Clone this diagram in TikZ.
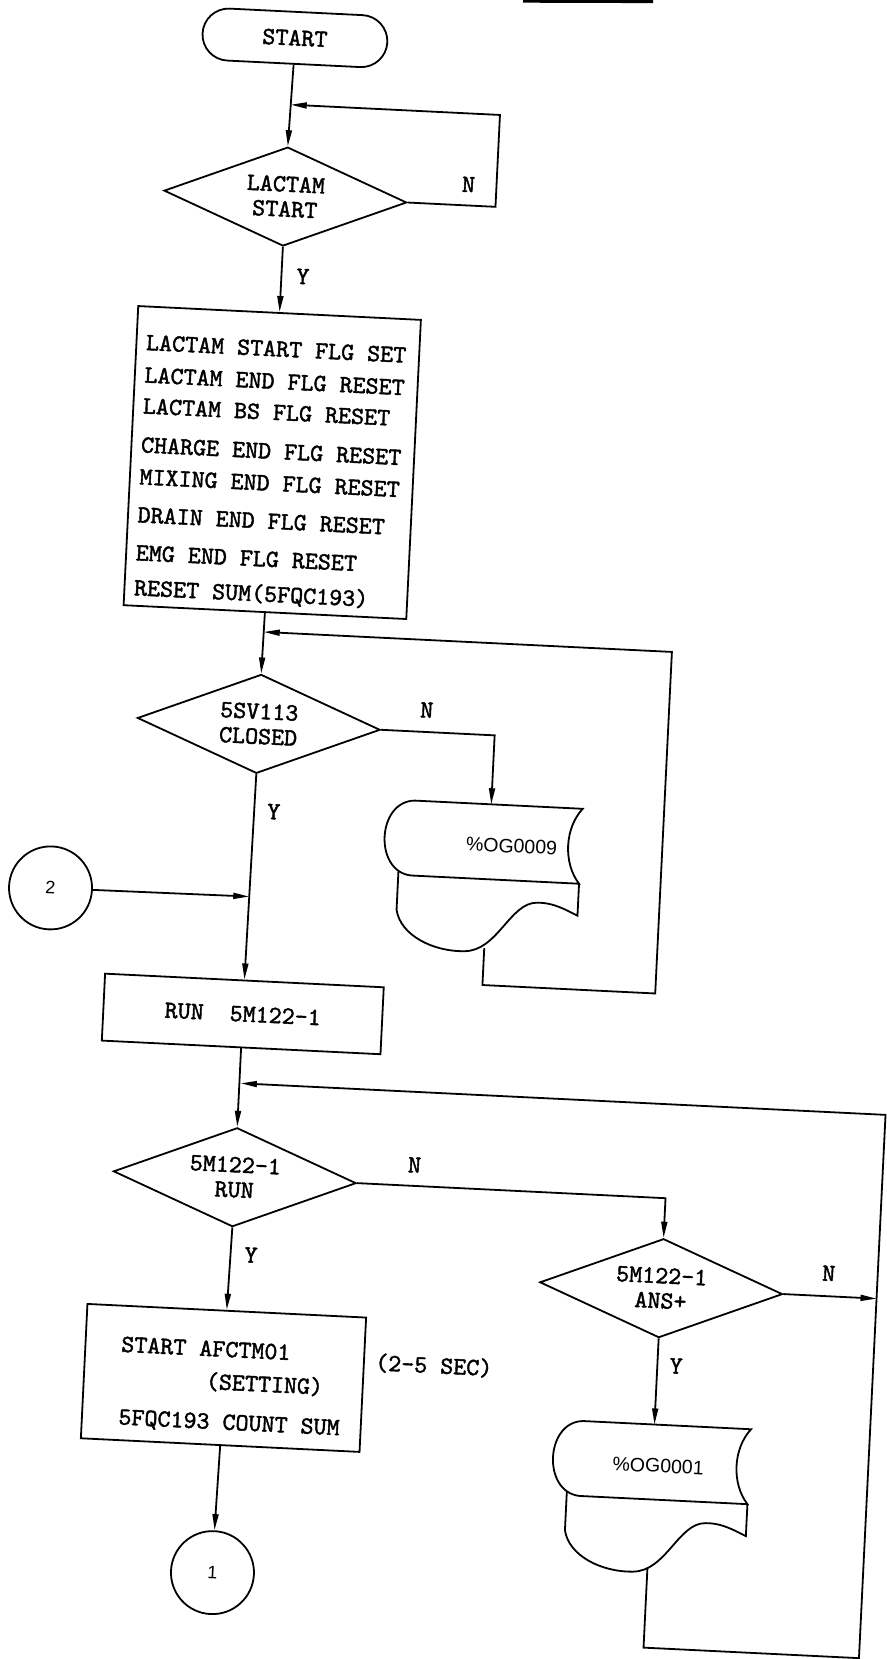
\documentclass[tikz,border=0pt]{standalone}
\usepackage{fontspec}
\newfontfamily\docfont{Liberation Sans}
\newfontfamily\chartmono{lmmono10-regular.otf}[FakeBold=1.6]
\usetikzlibrary{shapes.geometric,arrows.meta}
\newcommand\chartfont{\chartmono\fontsize{24.8}{25}\selectfont}
\newcommand\docfontsz{\docfont\fontsize{19.5}{22}\selectfont}
\newcommand\circfont{\docfont\fontsize{18}{20}\selectfont}
\tikzset{
  arr/.style={line width=1.8pt,-{Triangle[length=16pt,width=6pt]}},
  term/.style={draw,line width=1.8pt,rectangle,rounded corners=26pt,minimum width=185pt,minimum height=52pt,inner sep=0pt,font=\chartfont},
  dec/.style={draw,line width=1.8pt,diamond,aspect=2.5,inner sep=0pt,minimum width=243pt,minimum height=99pt,align=center,font=\chartfont},
  proc/.style={draw,line width=1.8pt,rectangle,inner sep=0pt,font=\chartfont},
  conn/.style={draw,line width=1.8pt,circle,minimum size=83pt,inner sep=0pt,font=\circfont},
  txt/.style={font=\chartfont,inner sep=0pt,anchor=base west},
  lbl/.style={font=\chartfont,inner sep=0pt},
  doctxt/.style={font=\docfontsz,inner sep=0pt},
  docsym/.pic={
    \draw[line width=1.8pt] (0,0) -- (168,0) .. controls (151,20) and (151,55) .. (168,75) -- (0,75) .. controls (-38,73) and (-38,2) .. (0,0) -- cycle;
    \draw[line width=1.8pt] (-13,71) -- (-13,110) .. controls (-8,135) and (25,150) .. (57,148) .. controls (90,146) and (100,97) .. (127,96) .. controls (145,95) and (158,103) .. (168,107) -- (168,75);
  }
}
\begin{document}
\begin{tikzpicture}[x=1pt,y=-1pt]
\path[fill=white,use as bounding box] (0,0) rectangle (886,1659);
\draw[line width=3pt] (523,1.2) -- (653,1.6);
\begin{scope}[rotate around={-2.8:(443,830)},transform shape]
% main column
\node[term] (start) at (256.4,46) {START};
\node[dec] (d1) at (254.6,205) {LACTAM\\START};
\node[proc,minimum width=283pt,minimum height=299.5pt] (b1) at (254.5,471.3) {};
\node[txt] (t1) at (122.5,365.1) {LACTAM START FLG SET};
\node[txt] (t2) at (122.5,397.6) {LACTAM END FLG RESET};
\node[txt] (t3) at (122.5,428.6) {LACTAM BS FLG RESET};
\node[txt] (t4) at (122.5,467.6) {CHARGE END FLG RESET};
\node[txt] (t5) at (122.5,499.6) {MIXING END FLG RESET};
\node[txt] (t6) at (122.5,537.6) {DRAIN END FLG RESET};
\node[txt] (t7) at (122.5,575.6) {EMG END FLG RESET};
\node[txt] (t8) at (122.5,610.6) {RESET SUM(5FQC193)};
\node[dec] (d2) at (253.8,733) {5SV113\\CLOSED};
\node[conn] (c2) at (53.8,907) {2};
\node[proc,minimum width=279pt,minimum height=67pt] (run) at (252,1023.5) {RUN\ \ 5M122-1};
\node[dec] (d3) at (252,1187) {5M122-1\\RUN};
\node[proc,minimum width=279pt,minimum height=134.5pt] (b3) at (250.5,1388) {};
\node[txt] (s1) at (146.7,1366.9) {START AFCTM01};
\node[txt] (s2) at (233,1399.9) {(SETTING)};
\node[txt] (s3) at (147.4,1439.6) {5FQC193 COUNT SUM};
\node[lbl] (sec) at (460,1365.4) {(2-5 SEC)};
\node[conn] (c1) at (249,1583) {1};
% right side
\pic (p1) at (413.5,802) {docsym};
\node[doctxt] (o1t) at (512.3,842.7) {\%OG0009};
\node[dec] (d4) at (683.3,1277) {5M122-1\\ANS+};
\pic (p2) at (612,1413.5) {docsym};
\node[doctxt] (o2t) at (689,1454.5) {\%OG0001};
% helper coordinates
\coordinate (r1b) at (465,205);
\coordinate (r1t) at (465,113);
\coordinate (j1) at (255.5,113);
\coordinate (o1in) at (490,802);
\coordinate (o1out) at (490,946);
\coordinate (o1b) at (490,983);
\coordinate (r2b) at (663,983);
\coordinate (r2t) at (663,641);
\coordinate (j2) at (254.3,641);
\coordinate (j3) at (252.7,906);
\coordinate (o2in) at (683.3,1413.5);
\coordinate (o2out) at (683.3,1557);
\coordinate (o2b) at (683.3,1637);
\coordinate (r4b) at (899,1637);
\coordinate (r4t) at (899,1093);
\coordinate (j4) at (253.5,1093);
\coordinate (n4e) at (899,1277);
% connectors
\draw[arr] (start.south) -- (d1.north);
\draw[arr] (d1.east) -- (r1b) -- (r1t) -- (j1);
\draw[arr] (d1.south) -- (b1.north);
\draw[arr] (b1.south) -- (d2.north);
\draw[arr] (d2.east) -| (o1in);
\draw[arr] (o1out) -- (o1b) -- (r2b) -- (r2t) -- (j2);
\draw[arr] (d2.south) -- (run.north);
\draw[arr] (c2.east) -- (j3);
\draw[arr] (run.south) -- (d3.north);
\draw[arr] (d3.east) -| (d4.north);
\draw[arr] (d3.south) -- (b3.north);
\draw[arr] (b3.south) -- (c1.north);
\draw[arr] (d4.east) -- (n4e);
\draw[arr] (d4.south) -- (o2in);
\draw[arr] (o2out) -- (o2b) -- (r4b) -- (r4t) -- (j4);
% labels
\node[lbl] (n1) at (437,184) {N};
\node[lbl] (y1) at (276,284) {Y};
\node[lbl] (n2) at (421,711) {N};
\node[lbl] (y2) at (273,820) {Y};
\node[lbl] (n3) at (431,1166) {N};
\node[lbl] (y3) at (272,1264) {Y};
\node[lbl] (n4) at (850,1254) {N};
\node[lbl] (y4) at (702,1354) {Y};
\end{scope}
\end{tikzpicture}
\end{document}
